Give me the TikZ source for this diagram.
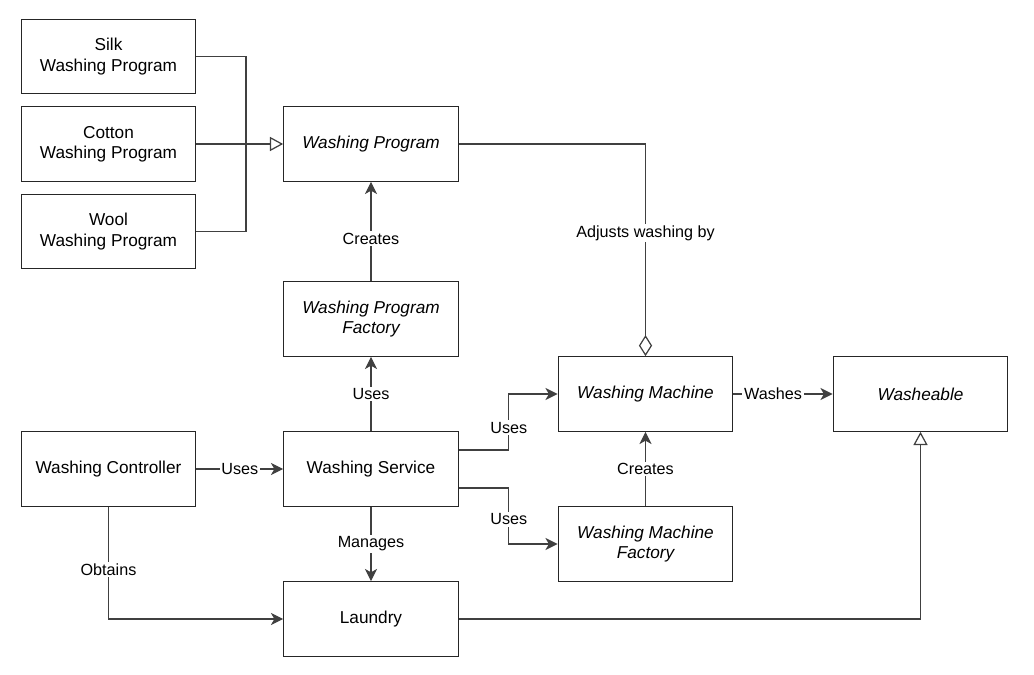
\documentclass[tikz,border=0pt]{standalone}
\usepackage{fontspec}
\setmainfont{Liberation Sans}
\usetikzlibrary{arrows.meta}

\tikzset{
  cls/.style={draw=black!85, line width=0.7pt, minimum width=3.49cm, minimum height=1.49cm,
    align=center, font=\fontsize{9.8}{11.6}\selectfont, inner sep=1pt},
  abstr/.style={cls, font=\fontsize{9.8}{11.6}\selectfont\itshape},
  link/.style={draw=black!75, line width=0.7pt},
  uses/.style={link, -{Stealth[length=7pt,width=7pt,inset=2pt]}},
  inherits/.style={link, -{Triangle[open,length=7.5pt,width=8pt]}},
  holds/.style={link, -{Diamond[open,length=12pt,width=7.5pt]}},
  lbl/.style={fill=white, inner sep=1pt, font=\fontsize{9.2}{11}\selectfont}
}

\begin{document}
\begin{tikzpicture}[x=0.02cm, y=-0.02cm]
  \useasboundingbox (0,0) rectangle (1034,675);
  % programs
  \node [cls] (silk) at (108.5,56.5) {Silk\\Washing Program};
  \node [cls] (cotton) at (108.5,144) {Cotton\\Washing Program};
  \node [cls] (wool) at (108.5,231.5) {Wool\\Washing Program};
  \node [abstr] (wp) at (371,144) {Washing Program};
  \node [abstr] (wpf) at (371,319) {Washing Program\\Factory};
  % service side
  \node [cls] (wc) at (108.5,469) {Washing Controller};
  \node [cls] (ws) at (371,469) {Washing Service};
  \node [cls] (laundry) at (371,619) {Laundry};
  \node [abstr] (wm) at (645.5,394) {Washing Machine};
  \node [abstr] (wmf) at (645.5,544) {Washing Machine\\Factory};
  \node [abstr] (wash) at (920.5,394) {Washeable};
  \coordinate (join) at (246,144);

  \draw [link] (silk.east) -| (join);
  \draw [link] (wool.east) -| (join);
  \draw [inherits] (cotton.east) -- (wp.west);
  \draw [holds] (wp.east) -| node[lbl, pos=0.71] {Adjusts washing by} (wm.north);
  \draw [uses] (wpf.north) -- node[lbl, pos=0.43] {Creates} (wp.south);
  \draw [uses] (ws.north) -- node[lbl] {Uses} (wpf.south);
  \draw [uses] (wc.east) -- node[lbl] {Uses} (ws.west);
  \draw [uses] (ws.south) -- node[lbl] {Manages} (laundry.north);
  \draw [uses] (wc.south) |- node[lbl, pos=0.28] {Obtains} (laundry.west);
  \draw [uses] ([yshift=0.38cm]ws.east) -- ++(1cm,0) |- node[lbl, pos=0.2] {Uses} (wm.west);
  \draw [uses] ([yshift=-0.38cm]ws.east) -- ++(1cm,0) |- node[lbl, pos=0.28] {Uses} (wmf.west);
  \draw [uses] (wmf.north) -- node[lbl] {Creates} (wm.south);
  \draw [uses] (wm.east) -- node[lbl, pos=0.4] {Washes} (wash.west);
  \draw [inherits] (laundry.east) -| (wash.south);
\end{tikzpicture}
\end{document}
